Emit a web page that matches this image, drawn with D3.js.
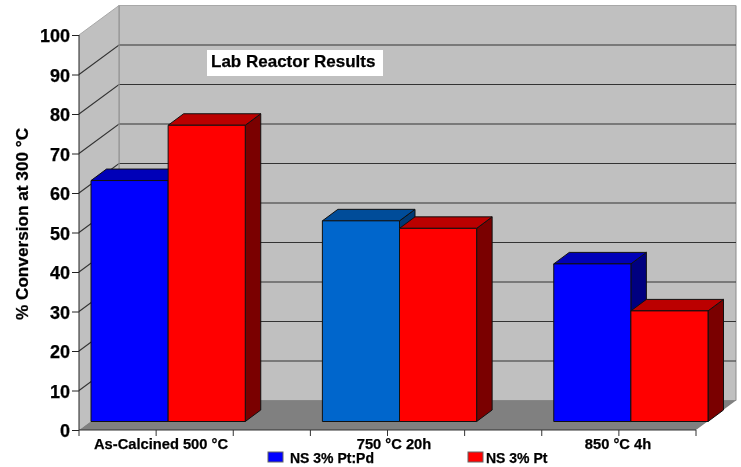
<!DOCTYPE html>
<html><head><meta charset="utf-8">
<script src="https://cdnjs.cloudflare.com/ajax/libs/d3/7.8.5/d3.min.js"></script>
<style>html,body{margin:0;background:#fff}svg{display:block;filter:blur(.4px)}text{font-family:"Liberation Sans",Arial,sans-serif;font-weight:bold;fill:#000;stroke:#000;stroke-width:.25px}</style>
</head><body><svg id="c" width="741" height="467"></svg>
<script>
const categories = ["As-Calcined 500 °C", "750 °C 20h", "850 °C 4h"];
const seriesNames = ["NS 3% Pt:Pd", "NS 3% Pt"];
const ptPd = [61, 50.8, 39.9];
const pt = [75, 48.9, 28];
const yTicks = [0,10,20,30,40,50,60,70,80,90,100];
const chartTitle = "Lab Reactor Results";
const yTitle = "% Conversion at 300 °C";
const series = [ptPd, pt];
const frontFill = [["#0000ff","#0066cc","#0000ff"],["#ff0000","#ff0000","#ff0000"]];
const topFill = [["#0000b8","#004c99","#0000b8"],["#bb0000","#bb0000","#bb0000"]];
const sideFill = [["#000080","#003a75","#000080"],["#7a0000","#7a0000","#7a0000"]];

const svg = d3.select("#c");
const y = d3.scaleLinear().domain([0,100]).range([430,35]);
const x = d3.scaleBand().domain(categories).range([79,696]).paddingInner(1/3).paddingOuter(0);
const xs = d3.scaleBand().domain([0,1]).range([0,x.bandwidth()]);
const D = {dx:40,dy:-29.5};
const B = {ox:12,oy:-8.5,dx:15.5,dy:-11.5};
const XL=79, XR=696;
const poly = (pts,f,s,w)=>svg.append("polygon").attr("points",pts.map(p=>p.join(",")).join(" ")).attr("fill",f).attr("stroke",s||"none").attr("stroke-width",w||0);

// walls and floor
poly([[XL+D.dx,y(100)+D.dy],[XR+D.dx,y(100)+D.dy],[XR+D.dx,y(0)+D.dy],[XL+D.dx,y(0)+D.dy]],"#c0c0c0","#8c8c8c",1);
poly([[XL,y(100)],[XL+D.dx,y(100)+D.dy],[XL+D.dx,y(0)+D.dy],[XL,y(0)]],"#c0c0c0");
poly([[XL,y(0)],[XR,y(0)],[XR+D.dx,y(0)+D.dy],[XL+D.dx,y(0)+D.dy]],"#808080");

// gridlines
svg.append("g").selectAll("path").data(yTicks.slice(1,-1)).join("path")
  .attr("d",v=>`M${XL},${y(v)}L${XL+D.dx},${y(v)+D.dy}L${XR+D.dx},${y(v)+D.dy}`)
  .attr("fill","none").attr("stroke","#333").attr("stroke-width",1.1);
svg.append("path").attr("d",`M${XL},${y(100)}L${XL+D.dx},${y(100)+D.dy}L${XR+D.dx},${y(100)+D.dy}`).attr("fill","none").attr("stroke","#a8a8a8");
svg.append("line").attr("x1",XL+D.dx).attr("x2",XL+D.dx).attr("y1",y(100)+D.dy).attr("y2",y(0)+D.dy).attr("stroke","#969696").attr("stroke-width",1.2);

// bars
categories.forEach((c,i)=>{
  series.forEach((vals,s)=>{
    const x0=x(c)+xs(s)+B.ox, x1=x0+xs.bandwidth(), yb=y(0)+B.oy, yt=y(vals[i])+B.oy;
    const st="#111";
    poly([[x1,yt],[x1+B.dx,yt+B.dy],[x1+B.dx,yb+B.dy],[x1,yb]],sideFill[s][i],st,1);
    poly([[x0,yt],[x0+B.dx,yt+B.dy],[x1+B.dx,yt+B.dy],[x1,yt]],topFill[s][i],st,1);
    poly([[x0,yt],[x1,yt],[x1,yb],[x0,yb]],frontFill[s][i],st,1);
  });
});

// axes
const yAxis=d3.axisLeft(y).tickValues(yTicks).tickSize(7).tickPadding(2);
const yg=svg.append("g").attr("transform",`translate(${XL},0)`).call(yAxis);
yg.selectAll("text").style("font-size","18px").attr("dy","0.37em");
yg.selectAll("path,line").attr("stroke","#222");
yg.select(".domain").attr("d",`M0,${y(100)}V${y(0)}`);

const tickPos=d3.range(0,9).map(i=>XL+i*(XR-XL)/8);
const xg=svg.append("g");
xg.append("line").attr("x1",XL).attr("x2",XR).attr("y1",y(0)).attr("y2",y(0)).attr("stroke","#333");
xg.selectAll("line.t").data(tickPos).join("line").attr("class","t").attr("x1",d=>d).attr("x2",d=>d).attr("y1",y(0)).attr("y2",y(0)+6).attr("stroke","#333");
const labelX=[161,394,618];
xg.selectAll("text").data(categories).join("text").attr("x",(d,i)=>labelX[i]).attr("y",449).attr("text-anchor","middle").style("font-size","14.7px").text(d=>d);

// y title
svg.append("text").attr("transform","translate(28,224) rotate(-90)").attr("text-anchor","middle").style("font-size","17.2px").text(yTitle);

// title
svg.append("rect").attr("x",207).attr("y",50).attr("width",176).attr("height",26).attr("fill","#fff");
svg.append("text").attr("x",211).attr("y",67).style("font-size","17px").text(chartTitle);

// legend
const lx=[268,468], tx=[290,486];
seriesNames.forEach((n,i)=>{
  svg.append("rect").attr("x",lx[i]).attr("y",452).attr("width",15).attr("height",10).attr("fill",frontFill[i][0]).attr("stroke","#666");
  svg.append("text").attr("x",tx[i]).attr("y",463).style("font-size","14px").text(n);
});
</script></body></html>
